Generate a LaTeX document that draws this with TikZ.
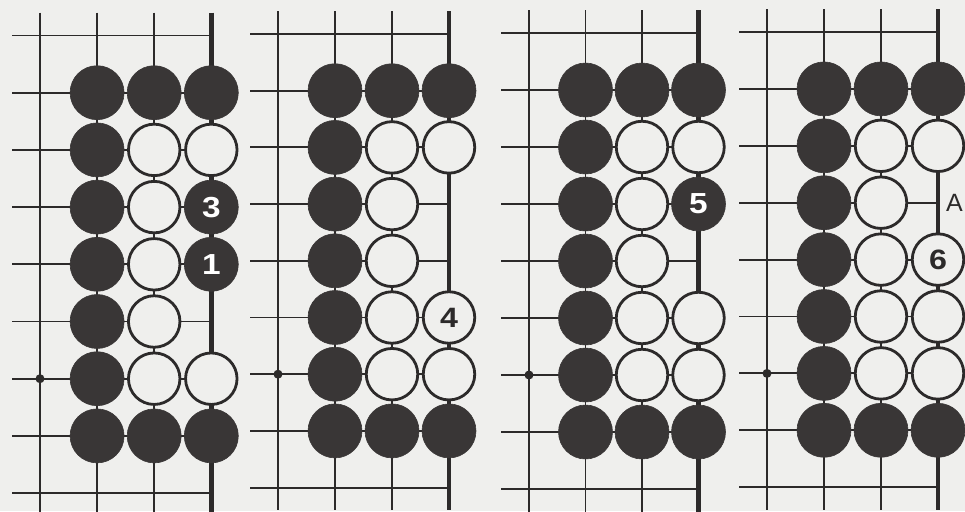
\documentclass[tikz,border=0pt]{standalone}
\usepackage{fontspec}
\setmainfont{Liberation Sans}
\newfontfamily\digitfont[FakeStretch=1.15]{Liberation Sans}
\definecolor{bg}{HTML}{EFEFED}
\definecolor{ink}{HTML}{2C2A2A}
\definecolor{stonec}{HTML}{393636}
\tikzset{
  gridline/.style={draw=ink, line width=1.9pt},
  edgeline/.style={draw=ink, line width=4.5pt},
  bstone/.style={circle, fill=stonec, draw=stonec, line width=0.6pt, minimum size=54pt, inner sep=0pt,
     text=white, font=\digitfont\fontsize{29}{29}\selectfont\bfseries},
  wstone/.style={circle, fill=bg, draw=ink, line width=2.8pt, minimum size=51.5pt, inner sep=0pt,
     text=ink, font=\digitfont\fontsize{28}{28}\selectfont\bfseries},
  hoshi/.style={circle, fill=ink, minimum size=9pt, inner sep=0pt},
  lbl/.style={text=ink, font=\fontsize{25}{25}\selectfont, inner sep=0pt}
}
\newcommand{\gogrid}{%
  \foreach \r in {0,...,8} {\draw[gridline] (-0.49,\r) -- (3,\r);}
  \foreach \c in {0,1,2} {\draw[gridline] (\c,-0.4) -- (\c,8.4);}
  \draw[edgeline] (3,-0.4) -- (3,8.4);
  \node[hoshi] at (0,6) {};
}
\newcommand{\blackcol}[1]{%
  \foreach \r in {1,...,7} {\node[bstone] (#1-1-\r) at (1,\r) {};}
  \node[bstone] (#1-2-1) at (2,1) {};
  \node[bstone] (#1-3-1) at (3,1) {};
  \node[bstone] (#1-2-7) at (2,7) {};
  \node[bstone] (#1-3-7) at (3,7) {};
  \foreach \r in {2,...,6} {\node[wstone] (#1-2-\r) at (2,\r) {};}
  \node[wstone] (#1-3-2) at (3,2) {};
}
\begin{document}
\begin{tikzpicture}[x=1pt,y=-1pt]
\fill[bg] (0,0) rectangle (965,511);
\useasboundingbox (0,0) rectangle (965,511);

% Diagram 1
\begin{scope}[shift={(40,35.5)}, x=57.1pt, y=-57.2pt]
  \gogrid
  \blackcol{a}
  \node[bstone] (a-3-3) at (3,3) {3};
  \node[bstone] (a-3-4) at (3,4) {1};
  \node[wstone] (a-3-6) at (3,6) {};
\end{scope}

% Diagram 2
\begin{scope}[shift={(278,34)}, x=57pt, y=-56.7pt]
  \gogrid
  \blackcol{b}
  \node[wstone] (b-3-5) at (3,5) {4};
  \node[wstone] (b-3-6) at (3,6) {};
\end{scope}

% Diagram 3
\begin{scope}[shift={(529,33)}, x=56.5pt, y=-57pt]
  \gogrid
  \blackcol{c}
  \node[bstone] (c-3-3) at (3,3) {5};
  \node[wstone] (c-3-5) at (3,5) {};
  \node[wstone] (c-3-6) at (3,6) {};
\end{scope}

% Diagram 4
\begin{scope}[shift={(767,32)}, x=57pt, y=-56.9pt]
  \gogrid
  \blackcol{d}
  \node[wstone] (d-3-4) at (3,4) {6};
  \node[wstone] (d-3-5) at (3,5) {};
  \node[wstone] (d-3-6) at (3,6) {};
  \node[lbl, anchor=west] (d-A) at (3.14,3) {A};
\end{scope}
\end{tikzpicture}
\end{document}
